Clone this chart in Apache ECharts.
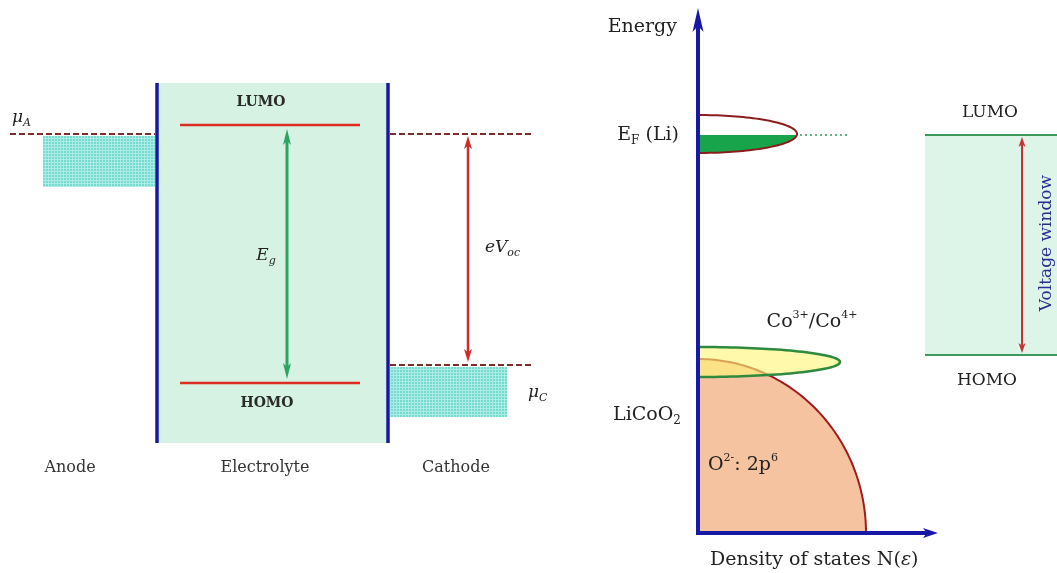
<!DOCTYPE html>
<html><head><meta charset="utf-8">
<script src="https://cdn.jsdelivr.net/npm/echarts@6/dist/echarts.min.js"></script>
<style>html,body{margin:0;padding:0;background:#fff}#c{width:1057px;height:573px}</style>
</head><body><div id="c"></div>
<script>
// ================= DATA (diagram units; energy axis grows downward = lower energy) =================
// Left panel: electrolyte window vs. electrode potentials
const electrolyteLevelNames = ['LUMO', 'HOMO'];
const electrolyteLevels = [125, 383];          // LUMO, HOMO
const electrolyteExtent = [83, 443];           // top / bottom of electrolyte region
const electrodeNames = ['μA', 'μC'];
const electrodeLevels = [134, 365];            // anode μA, cathode μC
const electrodeBandDepth = [53, 52];           // occupied band depth below each μ
const panelNames = ['Anode', 'Electrolyte', 'Cathode'];
const gapNames = ['E', 'g', 'eV', 'oc'];       // E_g , eV_oc

// Middle panel: density of states N(ε) for LiCoO2
const dosBandNames = ['Li', 'Co3+/Co4+', 'O2-: 2p6'];
const dosBandCentre = [134, 362, 533];         // band centre (energy units)
const dosBandHalfWidth = [19, 15, 174];        // energy half-width of each band
const dosBandPeak = [99, 142, 168];            // maximum N(ε) of each band
const fermiLevelLi = 135;
const dosAxisTitles = ['Energy', 'Density of states N(', 'ε', ')'];

// Right panel: voltage window
const windowLevelNames = ['LUMO', 'HOMO'];
const windowLevels = [135, 355];
const windowTitle = 'Voltage window';

// ================= LAYOUT / STYLE (not data) =================
const FONT = '"DejaVu Serif","Liberation Serif",serif';
const L = {
  anodeX: [10, 155], anodeBandX: [43, 155],
  wallX: [157, 388], electrolyteLineX: [180, 360],
  cathodeX: [390, 533], cathodeBandX: [390, 507],
  egX: 287, vocX: 468,
  axisX: 698, axisTop: 8, axisRight: 938,
  fermiDotX: [800, 847],
  windowX: [925, 1057], windowArrowX: 1022
};
const BLUE = '#1818a6', RED = '#de2e22', DASH = '#7d2b2b';

// hatch pattern for electrode bands
const pat = document.createElement('canvas');
pat.width = 3; pat.height = 3;
const pg = pat.getContext('2d');
pg.fillStyle = '#78d9cf'; pg.fillRect(0, 0, 3, 3);
pg.fillStyle = '#a9ede5'; pg.fillRect(0, 0, 3, 1); pg.fillRect(0, 0, 1, 3);

// ---------- boxes ----------
const boxes = [
  {x: L.wallX, y: electrolyteExtent, fill: '#d6f2e2'},
  {x: L.windowX, y: windowLevels, fill: '#ddf5e8'},
  {x: L.anodeBandX, y: [electrodeLevels[0] + 2, electrodeLevels[0] + electrodeBandDepth[0]], fill: {image: pat, repeat: 'repeat'}},
  {x: L.cathodeBandX, y: [electrodeLevels[1] + 2, electrodeLevels[1] + electrodeBandDepth[1]], fill: {image: pat, repeat: 'repeat'}}
];

// ---------- segments ----------
const segs = [];
L.wallX.forEach(x => segs.push({a: [x, electrolyteExtent[0]], b: [x, electrolyteExtent[1]], stroke: BLUE, w: 3.5}));
electrolyteLevels.forEach(y => segs.push({a: [L.electrolyteLineX[0], y], b: [L.electrolyteLineX[1], y], stroke: RED, w: 2.5}));
segs.push({a: [L.anodeX[0], electrodeLevels[0]], b: [L.anodeX[1], electrodeLevels[0]], stroke: DASH, w: 2, dash: [6, 3]});
segs.push({a: [L.cathodeX[0], electrodeLevels[0]], b: [L.cathodeX[1], electrodeLevels[0]], stroke: DASH, w: 2, dash: [6, 3]});
segs.push({a: [L.cathodeX[0], electrodeLevels[1]], b: [L.cathodeX[1], electrodeLevels[1]], stroke: DASH, w: 2, dash: [6, 3]});
windowLevels.forEach(y => segs.push({a: [L.windowX[0], y], b: [L.windowX[1], y], stroke: '#3c9a5c', w: 2}));
segs.push({a: [L.fermiDotX[0], fermiLevelLi], b: [L.fermiDotX[1], fermiLevelLi], stroke: '#2e9a60', w: 1.5, dash: [2, 3]});

// ---------- arrows ----------
const arrows = [
  {a: [L.egX, electrolyteLevels[0] + 4], b: [L.egX, electrolyteLevels[1] - 4], c: '#2aa55e', w: 3, hl: 16, hw: 8, both: true},
  {a: [L.vocX, electrodeLevels[0] + 2], b: [L.vocX, electrodeLevels[1] - 3], c: '#d42a2a', w: 2.5, hl: 13, hw: 8, both: true},
  {a: [L.windowArrowX, windowLevels[0] + 2], b: [L.windowArrowX, windowLevels[1] - 2], c: '#c93232', w: 2, hl: 10, hw: 7, both: true},
  {a: [L.axisX, dosBandCentre[2]], b: [L.axisX, L.axisTop], c: BLUE, w: 4, hl: 24, hw: 11, both: false},
  {a: [L.axisX - 2, dosBandCentre[2]], b: [L.axisRight, dosBandCentre[2]], c: BLUE, w: 4, hl: 15, hw: 10, both: false}
];

// ---------- labels ----------
const R = {
  s: {fontFamily: FONT, fontSize: 16, fill: '#333', lineHeight: 22, verticalAlign: 'middle'},
  b: {fontFamily: FONT, fontSize: 14, fontWeight: 'bold', fill: '#2a2a2a', lineHeight: 20, verticalAlign: 'middle'},
  m: {fontFamily: FONT, fontSize: 19, fill: '#222', lineHeight: 24, verticalAlign: 'middle'},
  mi: {fontFamily: FONT, fontSize: 19, fontStyle: 'italic', fill: '#222', lineHeight: 24, verticalAlign: 'middle'},
  sub: {fontFamily: FONT, fontSize: 12, fill: '#222', lineHeight: 14, verticalAlign: 'bottom'},
  sup: {fontFamily: FONT, fontSize: 11, fill: '#222', lineHeight: 11, verticalAlign: 'top'},
  i: {fontFamily: FONT, fontSize: 17, fontStyle: 'italic', fill: '#222', lineHeight: 22, verticalAlign: 'middle'},
  isub: {fontFamily: FONT, fontSize: 11, fontStyle: 'italic', fill: '#222', lineHeight: 14, verticalAlign: 'bottom'},
  r: {fontFamily: FONT, fontSize: 17, fill: '#222', lineHeight: 22, verticalAlign: 'middle'},
  v: {fontFamily: FONT, fontSize: 17, fill: '#2b2b90', lineHeight: 22, verticalAlign: 'middle'}
};
const labels = [
  {t: '{i|μ}{isub|' + electrodeNames[0].slice(1) + '}', p: [12, 118], al: 'left'},
  {t: '{i|μ}{isub|' + electrodeNames[1].slice(1) + '}', p: [528, 393], al: 'left'},
  {t: '{b|' + electrolyteLevelNames[0] + '}', p: [261, 102], al: 'center'},
  {t: '{b|' + electrolyteLevelNames[1] + '}', p: [267, 403], al: 'center'},
  {t: '{i|' + gapNames[0] + '}{isub|' + gapNames[1] + '}', p: [266, 256], al: 'center'},
  {t: '{i|' + gapNames[2] + '}{isub|' + gapNames[3] + '}', p: [485, 248], al: 'left'},
  {t: '{s|' + panelNames[0] + '}', p: [70, 468], al: 'center'},
  {t: '{s|' + panelNames[1] + '}', p: [265, 468], al: 'center'},
  {t: '{s|' + panelNames[2] + '}', p: [456, 468], al: 'center'},
  {t: '{m|' + dosAxisTitles[0] + '}', p: [677, 27], al: 'right'},
  {t: '{m|E}{sub|F}{m| (' + dosBandNames[0] + ')}', p: [679, 135], al: 'right'},
  {t: '{m|Co}{sup|3+}{m|/Co}{sup|4+}', p: [812, 322], al: 'center'},
  {t: '{m|LiCoO}{sub|2}', p: [681, 415], al: 'right'},
  {t: '{m|O}{sup|2-}{m|: 2p}{sup|6}', p: [708, 465], al: 'left'},
  {t: '{m|' + dosAxisTitles[1] + '}{mi|' + dosAxisTitles[2] + '}{m|' + dosAxisTitles[3] + '}', p: [710, 560], al: 'left'},
  {t: '{r|' + windowLevelNames[0] + '}', p: [990, 113], al: 'center'},
  {t: '{r|' + windowLevelNames[1] + '}', p: [987, 381], al: 'center'},
  {t: '{v|' + windowTitle + '}', p: [1047, 243], al: 'center', rot: Math.PI / 2}
];

// ================= CHART =================
const chart = echarts.init(document.getElementById('c'), null, {renderer: 'canvas'});

function halfEllipse(api, cx, cy, rx, ry, t0, t1) {
  const pts = [];
  const n = 80;
  for (let k = 0; k <= n; k++) {
    const t = t0 + (t1 - t0) * k / n;
    pts.push(api.coord([cx + rx * Math.cos(t), cy + ry * Math.sin(t)]));
  }
  return pts;
}

function idx(arr) { return arr.map((_, i) => [i, 0]); }

const option = {
  animation: false,
  backgroundColor: '#ffffff',
  grid: {left: 0, right: 0, top: 0, bottom: 0},
  xAxis: {type: 'value', min: 0, max: 1057, show: false},
  yAxis: {type: 'value', min: 0, max: 573, inverse: true, show: false},
  series: [
    { // boxes
      type: 'custom', z: 1, silent: true, clip: false, data: idx(boxes),
      renderItem: (params, api) => {
        const b = boxes[params.dataIndex];
        const p0 = api.coord([b.x[0], b.y[0]]), p1 = api.coord([b.x[1], b.y[1]]);
        return {type: 'rect', shape: {x: p0[0], y: p0[1], width: p1[0] - p0[0], height: p1[1] - p0[1]}, style: {fill: b.fill}};
      }
    },
    { // O2- 2p band (drawn first)
      type: 'custom', z: 2, silent: true, clip: false, data: [[2, 0]],
      renderItem: (params, api) => {
        const i = 2;
        const cx = L.axisX, cy = dosBandCentre[i], rx = dosBandPeak[i], ry = dosBandHalfWidth[i];
        const pts = halfEllipse(api, cx, cy, rx, ry, -Math.PI / 2, 0);
        pts.push(api.coord([cx, cy]));
        return {type: 'polygon', shape: {points: pts}, style: {fill: '#f6c3a1', stroke: '#9e1c1c', lineWidth: 2}};
      }
    },
    { // Li and Co bands
      type: 'custom', z: 3, silent: true, clip: false, data: [[0, 0], [1, 0]],
      renderItem: (params, api) => {
        const i = params.dataIndex;
        const cx = L.axisX, cy = dosBandCentre[i], rx = dosBandPeak[i], ry = dosBandHalfWidth[i];
        const outline = halfEllipse(api, cx, cy, rx, ry, -Math.PI / 2, Math.PI / 2);
        if (i === 1) {
          return {type: 'polygon', shape: {points: outline},
            style: {fill: 'rgba(253,245,120,0.62)', stroke: '#2f8a3e', lineWidth: 2.5}};
        }
        const s0 = Math.asin(Math.max(-1, Math.min(1, (fermiLevelLi - cy) / ry)));
        const filled = [api.coord([cx, fermiLevelLi])].concat(halfEllipse(api, cx, cy, rx, ry, s0, Math.PI / 2));
        return {type: 'group', children: [
          {type: 'polygon', shape: {points: outline}, style: {fill: '#ffffff'}},
          {type: 'polygon', shape: {points: filled}, style: {fill: '#17a44a'}},
          {type: 'polyline', shape: {points: outline}, style: {fill: null, stroke: '#8c1d1d', lineWidth: 2}}
        ]};
      }
    },
    { // segments
      type: 'custom', z: 4, silent: true, clip: false, data: idx(segs),
      renderItem: (params, api) => {
        const s = segs[params.dataIndex];
        const p = api.coord(s.a), q = api.coord(s.b);
        return {type: 'line', shape: {x1: p[0], y1: p[1], x2: q[0], y2: q[1]},
          style: {stroke: s.stroke, lineWidth: s.w, lineDash: s.dash || null}};
      }
    },
    { // arrows
      type: 'custom', z: 5, silent: true, clip: false, data: idx(arrows),
      renderItem: (params, api) => {
        const A = arrows[params.dataIndex];
        const p = api.coord(A.a), q = api.coord(A.b);
        const dx = q[0] - p[0], dy = q[1] - p[1], len = Math.hypot(dx, dy);
        const ux = dx / len, uy = dy / len, nx = -uy, ny = ux;
        const head = (tip, d) => ({type: 'polygon', shape: {points: [
          tip,
          [tip[0] - d[0] * A.hl + nx * A.hw / 2, tip[1] - d[1] * A.hl + ny * A.hw / 2],
          [tip[0] - d[0] * A.hl * 0.75, tip[1] - d[1] * A.hl * 0.75],
          [tip[0] - d[0] * A.hl - nx * A.hw / 2, tip[1] - d[1] * A.hl - ny * A.hw / 2]
        ]}, style: {fill: A.c}});
        const s = A.both ? [p[0] + ux * A.hl * 0.7, p[1] + uy * A.hl * 0.7] : p;
        const e = [q[0] - ux * A.hl * 0.7, q[1] - uy * A.hl * 0.7];
        const ch = [{type: 'line', shape: {x1: s[0], y1: s[1], x2: e[0], y2: e[1]}, style: {stroke: A.c, lineWidth: A.w}}, head(q, [ux, uy])];
        if (A.both) ch.push(head(p, [-ux, -uy]));
        return {type: 'group', children: ch};
      }
    },
    { // labels
      type: 'custom', z: 6, silent: true, clip: false, data: idx(labels),
      renderItem: (params, api) => {
        const lb = labels[params.dataIndex];
        const p = api.coord(lb.p);
        return {type: 'text', x: p[0], y: p[1], rotation: lb.rot || 0,
          style: {text: lb.t, rich: R, align: lb.al, textAlign: lb.al, verticalAlign: 'middle', textVerticalAlign: 'middle'}};
      }
    }
  ]
};
chart.setOption(option);
</script>
</body></html>
